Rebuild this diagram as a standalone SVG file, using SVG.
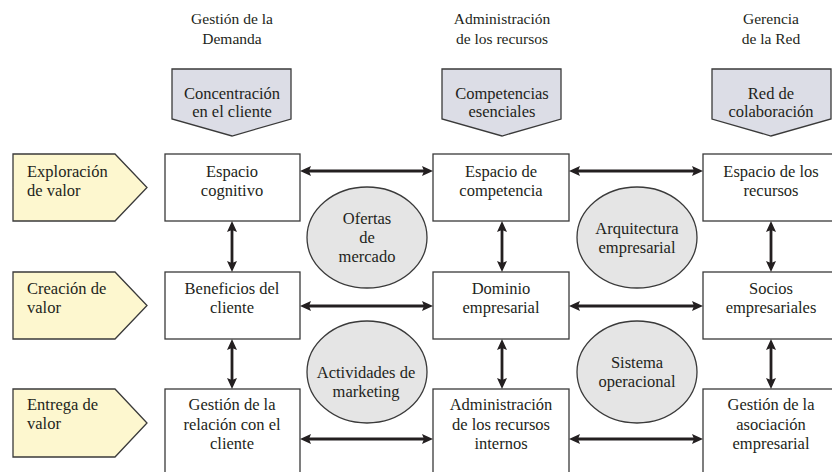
<svg xmlns="http://www.w3.org/2000/svg" width="832" height="472" viewBox="0 0 832 472">
<style>
text{font-size:16.5px;fill:#231f20;text-anchor:middle}
.l{text-anchor:start}
.box{fill:#fff;stroke:#3a3a3a;stroke-width:1.3}
.yel{fill:#fdf7cf;stroke:#3a3a3a;stroke-width:1.3}
.gry{fill:#dcdde6;stroke:#3a3a3a;stroke-width:1.3}
.ell{fill:#e5e5e5;stroke:#3a3a3a;stroke-width:1.3}
.hd{font-size:15.5px}
.c line{stroke:#231f20;stroke-width:2.8;marker-start:url(#ah);marker-end:url(#ah)}
</style>
<defs>
<marker id="ah" markerUnits="userSpaceOnUse" viewBox="0 0 11 10" markerWidth="11" markerHeight="10" refX="3" refY="5" orient="auto-start-reverse">
<path d="M0,0 L11,5 L0,10 L2,5 z" fill="#231f20"/>
</marker>
</defs>
<rect width="832" height="472" fill="#fff"/>
<g font-family="Liberation Serif, Tinos, Times New Roman, DejaVu Serif, serif">
<g id="headers">
<text class="hd" x="232" y="24">Gestión de la</text>
<text class="hd" x="232" y="44">Demanda</text>
<text class="hd" x="502" y="24">Administración</text>
<text class="hd" x="502" y="44">de los recursos</text>
<text class="hd" x="771" y="24">Gerencia</text>
<text class="hd" x="771" y="44">de la Red</text>
</g>

<g id="concentracion">
<path class="gry" d="M172,69 H291 V119 L232,136 L172,119 Z"/>
<text x="232" y="99">Concentración</text>
<text x="232" y="117">en el cliente</text>
</g>
<g id="competencias">
<path class="gry" d="M442,69 H561 V119 L502,136 L442,119 Z"/>
<text x="502" y="99">Competencias</text>
<text x="502" y="117">esenciales</text>
</g>
<g id="red-colaboracion">
<path class="gry" d="M712,69 H831 V119 L771,136 L712,119 Z"/>
<text x="771" y="99">Red de</text>
<text x="771" y="117">colaboración</text>
</g>

<g id="exploracion">
<path class="yel" d="M13,154 H115 L147,187.5 L115,221 H13 Z"/>
<text class="l" x="27" y="177">Exploración</text>
<text class="l" x="27" y="196">de valor</text>
</g>
<g id="creacion">
<path class="yel" d="M13,272 H115 L147,305.5 L115,339 H13 Z"/>
<text class="l" x="27" y="294">Creación de</text>
<text class="l" x="27" y="313">valor</text>
</g>
<g id="entrega">
<path class="yel" d="M13,389 H115 L147,423 L115,457 H13 Z"/>
<text class="l" x="27" y="410">Entrega de</text>
<text class="l" x="27" y="429">valor</text>
</g>

<g id="espacio-cognitivo">
<rect class="box" x="165" y="154" width="135" height="67"/>
<text x="232" y="177">Espacio</text>
<text x="232" y="196">cognitivo</text>
</g>
<g id="espacio-competencia">
<rect class="box" x="433" y="154" width="136" height="67"/>
<text x="501" y="177">Espacio de</text>
<text x="501" y="196">competencia</text>
</g>
<g id="espacio-recursos">
<rect class="box" x="703" y="154" width="136" height="67"/>
<text x="771" y="177">Espacio de los</text>
<text x="771" y="196">recursos</text>
</g>

<g id="beneficios">
<rect class="box" x="165" y="272" width="135" height="67"/>
<text x="232" y="294">Beneficios del</text>
<text x="232" y="313">cliente</text>
</g>
<g id="dominio">
<rect class="box" x="433" y="272" width="136" height="67"/>
<text x="501" y="294">Dominio</text>
<text x="501" y="313">empresarial</text>
</g>
<g id="socios">
<rect class="box" x="703" y="272" width="136" height="67"/>
<text x="771" y="294">Socios</text>
<text x="771" y="313">empresariales</text>
</g>

<g id="gestion-relacion">
<rect class="box" x="165" y="389" width="135" height="100"/>
<text x="232" y="410">Gestión de la</text>
<text x="232" y="430">relación con el</text>
<text x="232" y="449">cliente</text>
</g>
<g id="admin-recursos">
<rect class="box" x="433" y="389" width="136" height="100"/>
<text x="501" y="410">Administración</text>
<text x="501" y="430">de los recursos</text>
<text x="501" y="449">internos</text>
</g>
<g id="gestion-asociacion">
<rect class="box" x="703" y="389" width="136" height="100"/>
<text x="771" y="410">Gestión de la</text>
<text x="771" y="430">asociación</text>
<text x="771" y="449">empresarial</text>
</g>

<g id="ofertas">
<ellipse class="ell" cx="367" cy="237.5" rx="60" ry="50.5"/>
<text x="367" y="224">Ofertas</text>
<text x="367" y="243">de</text>
<text x="367" y="262">mercado</text>
</g>
<g id="arquitectura">
<ellipse class="ell" cx="637" cy="237.5" rx="60" ry="50.5"/>
<text x="637" y="234">Arquitectura</text>
<text x="637" y="253">empresarial</text>
</g>
<g id="actividades">
<ellipse class="ell" cx="367" cy="372" rx="60" ry="51"/>
<text x="366" y="378">Actividades de</text>
<text x="366" y="397">marketing</text>
</g>
<g id="sistema">
<ellipse class="ell" cx="637" cy="372" rx="60" ry="51"/>
<text x="637" y="368">Sistema</text>
<text x="637" y="387">operacional</text>
</g>
</g>
<g id="connectors" class="c">
<line x1="308" y1="171" x2="425" y2="171"/>
<line x1="577" y1="171" x2="695" y2="171"/>
<line x1="308" y1="306" x2="425" y2="306"/>
<line x1="577" y1="306" x2="695" y2="306"/>
<line x1="308" y1="439" x2="425" y2="439"/>
<line x1="577" y1="439" x2="695" y2="439"/>
<line x1="232" y1="229" x2="232" y2="264"/>
<line x1="232" y1="347" x2="232" y2="381"/>
<line x1="502" y1="229" x2="502" y2="264"/>
<line x1="502" y1="347" x2="502" y2="381"/>
<line x1="771" y1="229" x2="771" y2="264"/>
<line x1="771" y1="347" x2="771" y2="381"/>
</g>
</svg>
